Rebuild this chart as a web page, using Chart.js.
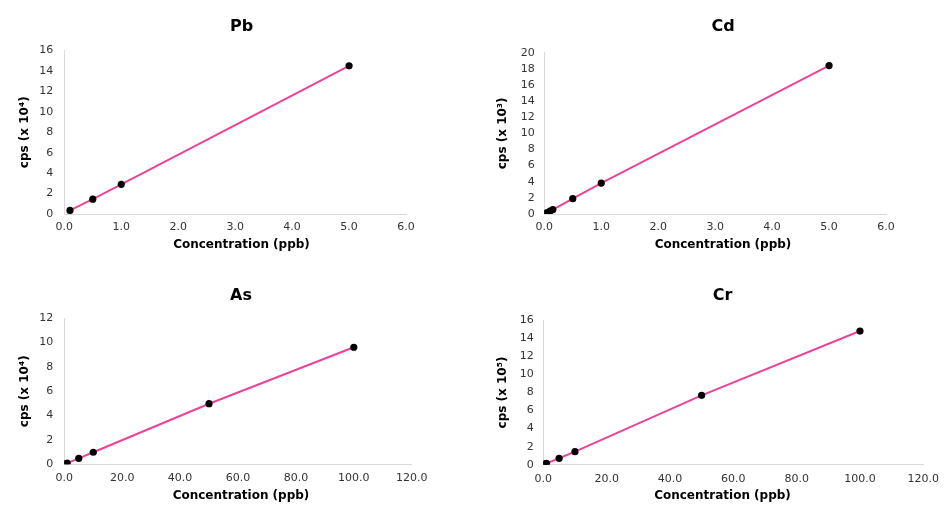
<!DOCTYPE html>
<html><head><meta charset="utf-8">
<script src="https://cdn.jsdelivr.net/npm/chart.js@4.4.1/dist/chart.umd.min.js"></script>
<style>
html,body{margin:0;padding:0;background:#fff;overflow:hidden;width:950px;height:515px}
.box{position:absolute}
</style></head><body>
<div class="box" style="left:0;top:0;width:475px;height:257px"><canvas id="cPb"></canvas></div>
<div class="box" style="left:475px;top:0;width:475px;height:257px"><canvas id="cCd"></canvas></div>
<div class="box" style="left:0;top:257px;width:475px;height:258px"><canvas id="cAs"></canvas></div>
<div class="box" style="left:475px;top:257px;width:475px;height:258px"><canvas id="cCr"></canvas></div>
<script>
// ---- data (concentration in ppb, cps in scaled units) ----
const pbConc = [0.1, 0.5, 1.0, 5.0];
const pbCps  = [0.35, 1.45, 2.9, 14.5];
const cdConc = [0.02, 0.05, 0.1, 0.15, 0.5, 1.0, 5.0];
const cdCps  = [0.07, 0.18, 0.37, 0.55, 1.9, 3.84, 18.4];
const asConc = [0.5, 1, 5, 10, 50, 100];
const asCps  = [0.05, 0.1, 0.49, 0.99, 4.98, 9.62];
const crConc = [0.5, 1, 5, 10, 50, 100];
const crCps  = [0.07, 0.15, 0.71, 1.44, 7.69, 14.81];
const chartTitles = ['Pb', 'Cd', 'As', 'Cr'];
const yTitles = ['cps (x 10\u2074)', 'cps (x 10\u00B3)', 'cps (x 10\u2074)', 'cps (x 10\u2075)'];
const xTitle = 'Concentration (ppb)';
const xRanges = [[0, 6, 1], [0, 6, 1], [0, 120, 20], [0, 120, 20]];
const yRanges = [[0, 16, 2], [0, 20, 2], [0, 12, 2], [0, 16, 2]];

const FONT = "'DejaVu Sans', Verdana, sans-serif";
const LINE = '#EC4399';
const TICK_SIZE = 11;

function make(id, conc, cps, idx, L) {
  const pts = conc.map((x, i) => ({x: x, y: cps[i]}));
  const xr = xRanges[idx], yr = yRanges[idx];
  new Chart(document.getElementById(id), {
    type: 'scatter',
    data: {datasets: [{
      data: pts, showLine: true, borderColor: LINE, borderWidth: 2,
      pointRadius: 3.6, pointBackgroundColor: '#000', pointBorderColor: '#000', pointBorderWidth: 0
    }]},
    options: {
      responsive: true, maintainAspectRatio: false, animation: false,
      layout: {padding: {left: L.padL, right: 0, top: 0, bottom: 0}},
      plugins: {
        legend: {display: false}, tooltip: {enabled: false},
        title: {display: true, text: chartTitles[idx], color: '#000',
          font: {family: FONT, size: 16, weight: 'bold'},
          padding: {top: L.tTop, bottom: L.tBot}},
        subtitle: {display: true, position: 'bottom', text: xTitle, color: '#000',
          font: {family: FONT, size: 12, weight: 'bold'},
          padding: {top: L.sTop, bottom: L.sBot}}
      },
      scales: {
        x: {type: 'linear', position: 'bottom', min: xr[0], max: xr[1],
          grid: {display: false, drawTicks: false},
          border: {display: true, color: '#d9d9d9', width: 1},
          ticks: {stepSize: xr[2], padding: L.xPad, color: '#333', autoSkip: false,
            font: {family: FONT, size: TICK_SIZE}, maxRotation: 0,
            callback: v => Number(v).toFixed(1)},
          afterFit: s => { s.height = L.xPad + TICK_SIZE * 1.2; }},
        y: {type: 'linear', position: 'left', min: yr[0], max: yr[1],
          grid: {display: false, drawTicks: false},
          border: {display: true, color: '#d9d9d9', width: 1},
          ticks: {stepSize: yr[2], padding: L.yPad, color: '#333', autoSkip: false,
            font: {family: FONT, size: TICK_SIZE}},
          title: {display: true, text: yTitles[idx], color: '#000',
            font: {family: FONT, size: 12, weight: 'bold'},
            padding: {top: L.yTitlePad, bottom: 0}},
          afterFit: s => { s.width = L.yW; }},
        y2: {type: 'linear', position: 'right', display: true,
          grid: {display: false, drawTicks: false}, border: {display: false},
          ticks: {display: false},
          afterFit: s => { s.width = L.rW; }}
      }
    }
  });
}

make('cPb', pbConc, pbCps, 0, {padL: 8, yW: 56.3, rW: 69, tTop: 17.2, tBot: 14.1, yTitlePad: 9.3, yPad: 11, xPad: 6.1, sTop: 4.5, sBot: 4.8});
make('cCd', cdConc, cdCps, 1, {padL: 21, yW: 48.3, rW: 64, tTop: 17.2, tBot: 16.3, yTitlePad: -0.7, yPad: 9.5, xPad: 6.1, sTop: 4.5, sBot: 4.8});
make('cAs', asConc, asCps, 2, {padL: 7, yW: 57.3, rW: 63.3, tTop: 28.9, tBot: 13.2, yTitlePad: 10.3, yPad: 11, xPad: 7.4, sTop: 3.5, sBot: 12.2});
make('cCr', crConc, crCps, 3, {padL: 20, yW: 48.3, rW: 26.7, tTop: 29.6, tBot: 14.5, yTitlePad: 0.3, yPad: 9.5, xPad: 8.2, sTop: 2.3, sBot: 12.2});
</script>
</body></html>
